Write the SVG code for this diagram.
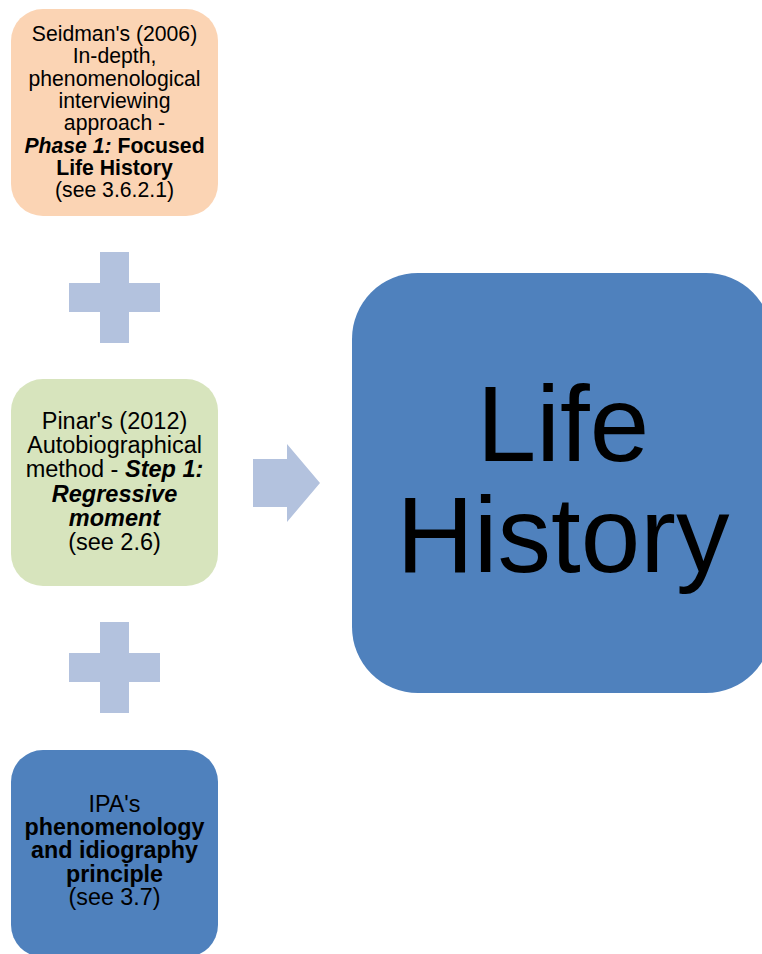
<svg xmlns="http://www.w3.org/2000/svg" width="762" height="954" viewBox="0 0 762 954">
  <style>
    text { font-family: "Liberation Sans", Arial, sans-serif; fill: #000000; text-anchor: middle; }
    .s1 { font-size: 21.2px; }
    .s2 { font-size: 23.5px; }
    .s3 { font-size: 23.3px; }
    .big { font-size: 107px; }
    .b { font-weight: bold; }
    .bi { font-weight: bold; font-style: italic; }
    .conn { fill: #B3C2DE; }
  </style>
  <rect width="762" height="954" fill="#FFFFFF"/>

  <g id="node-seidman">
    <rect x="11" y="9" width="207" height="207" rx="32" fill="#FBD4B4"/>
    <text class="s1" x="114.5" y="41">Seidman's (2006)</text>
    <text class="s1" x="114.5" y="63.3">In-depth,</text>
    <text class="s1" x="114.5" y="85.6">phenomenological</text>
    <text class="s1" x="114.5" y="107.9">interviewing</text>
    <text class="s1" x="114.5" y="130.2">approach -</text>
    <text class="s1" x="114.5" y="152.5"><tspan class="bi">Phase 1:</tspan><tspan class="b"> Focused</tspan></text>
    <text class="s1 b" x="114.5" y="174.8">Life History</text>
    <text class="s1" x="114.5" y="197.1">(see 3.6.2.1)</text>
  </g>

  <g id="node-pinar">
    <rect x="11" y="379" width="207" height="207" rx="32" fill="#D7E4BD"/>
    <text class="s2" x="114.5" y="429">Pinar's (2012)</text>
    <text class="s2" x="114.5" y="453.2">Autobiographical</text>
    <text class="s2" x="114.5" y="477.4">method - <tspan class="bi">Step 1:</tspan></text>
    <text class="s2 bi" x="114.5" y="501.6">Regressive</text>
    <text class="s2 bi" x="114.5" y="525.8">moment</text>
    <text class="s2" x="114.5" y="550">(see 2.6)</text>
  </g>

  <g id="node-ipa">
    <rect x="11" y="750" width="207" height="207" rx="32" fill="#4F81BD"/>
    <text class="s3" x="114.5" y="811.7">IPA's</text>
    <text class="s3 b" x="114.5" y="835">phenomenology</text>
    <text class="s3 b" x="114.5" y="858.3">and idiography</text>
    <text class="s3 b" x="114.5" y="881.6">principle</text>
    <text class="s3" x="114.5" y="904.9">(see 3.7)</text>
  </g>

  <g id="node-life-history">
    <rect x="352" y="273" width="420" height="420" rx="66" fill="#4F81BD"/>
    <text class="big" x="563" y="461">Life</text>
    <text class="big" x="563" y="572">History</text>
  </g>

  <g id="connectors">
    <polygon class="conn" points="100,252 129,252 129,283 160,283 160,312 129,312 129,343 100,343 100,312 69,312 69,283 100,283"/>
    <polygon class="conn" points="100,622 129,622 129,653 160,653 160,682 129,682 129,713 100,713 100,682 69,682 69,653 100,653"/>
    <polygon class="conn" points="253,459 287,459 287,444 320,483 287,522 287,507 253,507"/>
  </g>
</svg>
